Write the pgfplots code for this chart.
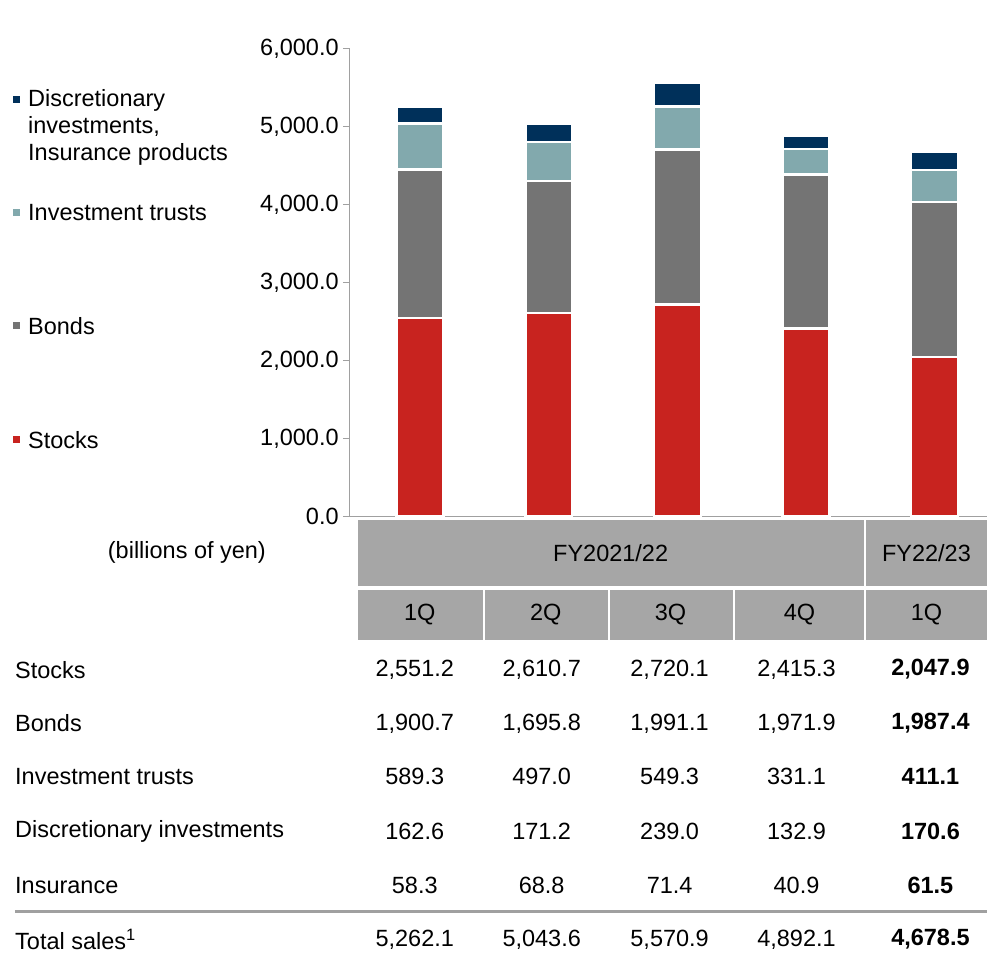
\documentclass[border=0pt]{standalone}
\usepackage{fontspec}
\setmainfont{Liberation Sans}
\usepackage{pgfplots}
\pgfplotsset{compat=1.18}
\definecolor{cred}{HTML}{C8231F}
\definecolor{cgray}{HTML}{747474}
\definecolor{cteal}{HTML}{82A9AD}
\definecolor{cnavy}{HTML}{00305A}
\definecolor{chead}{HTML}{A6A6A6}
\definecolor{caxis}{HTML}{A0A0A0}
\newcommand{\trow}[6]{%
  \node at (415,#1) {#2};
  \node at (542,#1) {#3};
  \node at (670,#1) {#4};
  \node at (797,#1) {#5};
  \node at (931,#1) {\textbf{#6}};}
\begin{document}
\begin{tikzpicture}[font=\fontsize{23.5}{28}\selectfont]
\begin{scope}[x=1pt,y=-1pt]
\useasboundingbox (0,0) rectangle (988,959);
% legend
\fill[cnavy] (13,96) rectangle (20,103);
\node[anchor=west,inner sep=0] at (28,100) {Discretionary};
\node[anchor=west,inner sep=0] at (28,127) {investments,};
\node[anchor=west,inner sep=0] at (28,155) {Insurance products};
\fill[cteal] (13,209) rectangle (20,216);
\node[anchor=west,inner sep=0] at (28,213) {Investment trusts};
\fill[cgray] (13,322) rectangle (20,329);
\node[anchor=west,inner sep=0] at (28,326) {Bonds};
\fill[cred] (13,436) rectangle (20,443);
\node[anchor=west,inner sep=0] at (28,440) {Stocks};
% header
\fill[chead] (358,520) rectangle (865,586);
\fill[chead] (867,520) rectangle (988,586);
\node at (611,553) {FY2021/22};
\node at (927,553) {FY22/23};
\node at (187,553) {(billions of yen)};
\fill[chead] (358,590) rectangle (483,640);
\fill[chead] (485,590) rectangle (608,640);
\fill[chead] (610,590) rectangle (733,640);
\fill[chead] (735,590) rectangle (865,640);
\fill[chead] (867,590) rectangle (988,640);
\node at (420,615) {1Q};
\node at (546,615) {2Q};
\node at (671,615) {3Q};
\node at (800,615) {4Q};
\node at (927,615) {1Q};
% rows
\node[anchor=west,inner sep=0] at (15,670) {Stocks};
\node[anchor=west,inner sep=0] at (15,724) {Bonds};
\node[anchor=west,inner sep=0] at (15,777) {Investment trusts};
\node[anchor=west,inner sep=0] at (15,832) {Discretionary investments};
\node[anchor=west,inner sep=0] at (15,886) {Insurance};
\node[anchor=west,inner sep=0] at (15,940) {Total sales\textsuperscript{1}};
\trow{670}{2,551.2}{2,610.7}{2,720.1}{2,415.3}{2,047.9}
\trow{724}{1,900.7}{1,695.8}{1,991.1}{1,971.9}{1,987.4}
\trow{777}{589.3}{497.0}{549.3}{331.1}{411.1}
\trow{832}{162.6}{171.2}{239.0}{132.9}{170.6}
\trow{886}{58.3}{68.8}{71.4}{40.9}{61.5}
\trow{940}{5,262.1}{5,043.6}{5,570.9}{4,892.1}{4,678.5}
\draw[caxis,line width=3pt] (15,912) -- (988,912);
\end{scope}
\begin{axis}[at={(350pt,-517pt)}, anchor=south west, scale only axis,
  width=638pt, height=468pt,
  xmin=-0.548, xmax=4.413, ymin=0, ymax=6000,
  ybar stacked, bar width=47pt,
  axis lines*=left,
  axis line style={caxis,line width=1.2pt},
  xtick=\empty,
  ytick={0,1000,2000,3000,4000,5000,6000},
  tick align=outside, major tick length=7pt,
  ytick style={caxis,line width=1pt},
  yticklabel style={font=\fontsize{23.5}{28}\selectfont, inner xsep=4pt,
    /pgf/number format/.cd, fixed, fixed zerofill, precision=1,
    1000 sep={,}, assume math mode=true},
]
\addplot[fill=cred,draw=white,line width=2.5pt] coordinates {(0,2551.2) (1,2610.7) (2,2720.1) (3,2415.3) (4,2047.9)};
\addplot[fill=cgray,draw=white,line width=2.5pt] coordinates {(0,1900.7) (1,1695.8) (2,1991.1) (3,1971.9) (4,1987.4)};
\addplot[fill=cteal,draw=white,line width=2.5pt] coordinates {(0,589.3) (1,497.0) (2,549.3) (3,331.1) (4,411.1)};
\addplot[fill=cnavy,draw=white,line width=2.5pt] coordinates {(0,220.9) (1,240.0) (2,310.4) (3,173.8) (4,232.1)};
\end{axis}
\end{tikzpicture}
\end{document}
